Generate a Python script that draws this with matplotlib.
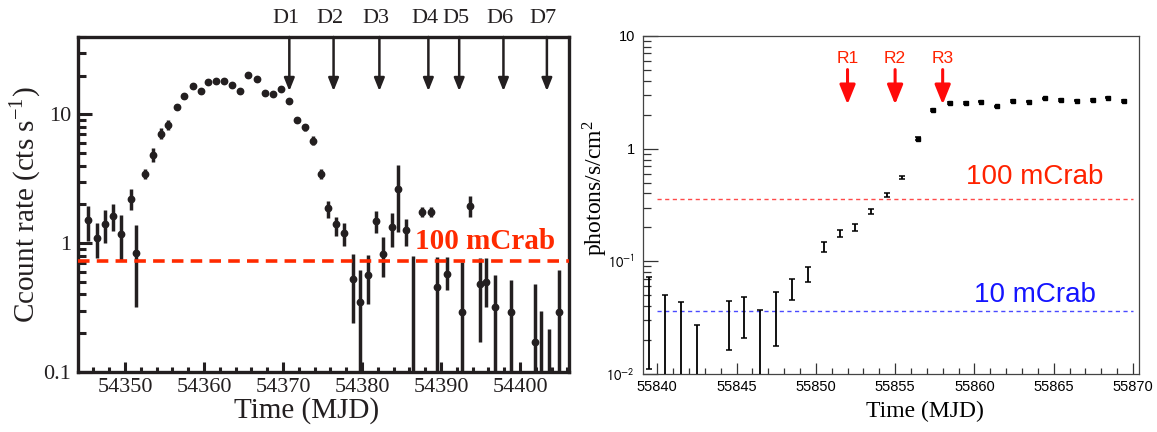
import numpy as np
import matplotlib
matplotlib.use("Agg")
import matplotlib.pyplot as plt
from matplotlib.ticker import FixedLocator, LogLocator, NullFormatter, MultipleLocator

plt.rcParams['mathtext.fontset'] = 'stix'
SERIF = ['Liberation Serif', 'DejaVu Serif']
SANS = ['Liberation Sans', 'DejaVu Sans']
INK = '#231f20'

# ---- left panel: count rate light curve ----
mjd_l = [54345.35, 54346.5, 54347.5, 54348.5, 54349.5, 54350.7, 54351.4, 54352.5, 54353.5, 54354.6,
         54355.4, 54356.6, 54357.5, 54358.6, 54359.6, 54360.5, 54361.5, 54362.5, 54363.5, 54364.6,
         54365.6, 54366.7, 54367.7, 54368.7, 54369.8, 54370.8, 54371.8, 54372.8, 54373.8, 54374.8,
         54375.7, 54376.7, 54377.7, 54378.8, 54379.7, 54380.8, 54381.8, 54382.6, 54383.8, 54384.5,
         54385.6, 54386.5, 54387.6, 54388.7, 54389.5, 54390.8, 54392.7, 54393.7, 54394.9, 54395.7,
         54396.8, 54398.9, 54401.9, 54402.7, 54403.7, 54404.9]
rate_l = [1.51, 1.09, 1.41, 1.62, 1.19, 2.2, 0.84, 3.46, 4.87, 7.1,
          8.3, 11.5, 13.9, 16.5, 15.2, 17.9, 18.2, 18.1, 16.9, 15.1,
          20.2, 18.8, 14.6, 14.5, 15.9, 12.7, 9.1, 7.95, 6.27, 3.46,
          1.89, 1.4, 1.21, 0.53, 0.35, 0.57, 1.49, 0.83, 1.33, 2.63,
          1.26, 0.05, 1.75, 1.75, 0.46, 0.58, 0.29, 1.95, 0.48, 0.5,
          0.32, 0.29, 0.17, 0.05, 0.05, 0.29]
lo_l = [1.05, 0.77, 1.0, 1.25, 0.74, 1.81, 0.32, 3.15, 4.3, 6.5,
        7.6, 11.0, 13.3, 15.8, 14.5, 17.1, 17.4, 17.3, 16.2, 14.4,
        19.3, 18.0, 14.0, 13.9, 15.2, 12.1, 8.6, 7.5, 5.8, 3.15,
        1.56, 1.13, 0.96, 0.24, 0.01, 0.34, 1.21, 0.55, 0.94, 1.22,
        0.95, 0.01, 1.6, 1.6, 0.01, 0.43, 0.01, 1.6, 0.17, 0.32,
        0.01, 0.01, 0.01, 0.01, 0.01, 0.01]
hi_l = [1.96, 1.43, 1.81, 2.02, 1.65, 2.63, 1.38, 3.8, 5.5, 7.8,
        9.1, 12.0, 14.5, 17.2, 15.9, 18.7, 19.0, 18.9, 17.6, 15.8,
        21.1, 19.6, 15.2, 15.1, 16.6, 13.3, 9.6, 8.4, 6.8, 3.8,
        2.14, 1.6, 1.44, 0.83, 0.62, 0.81, 1.78, 1.11, 1.71, 4.07,
        1.54, 0.79, 1.9, 1.9, 0.78, 0.78, 0.71, 2.33, 0.77, 0.77,
        0.57, 0.52, 0.48, 0.30, 0.215, 0.615]
crab_l = 0.73
d_labels = ['D1', 'D2', 'D3', 'D4', 'D5', 'D6', 'D7']
d_mjd = [54370.8, 54376.4, 54382.2, 54388.4, 54392.3, 54397.9, 54403.4]
d_tip = 15.2

# ---- right panel: photon flux light curve ----
mjd_r = [55839.5, 55840.5, 55841.5, 55842.5, 55844.5, 55845.5, 55846.5, 55847.5, 55848.5, 55849.5,
         55850.5, 55851.5, 55852.5, 55853.45, 55854.5, 55855.45, 55856.45, 55857.4, 55858.45, 55859.45,
         55860.4, 55861.45, 55862.45, 55863.45, 55864.45, 55865.45, 55866.45, 55867.45, 55868.45, 55869.45]
flux_r = [0.0415, 0.025, 0.022, 0.013, 0.0303, 0.0344, 0.018, 0.0355, 0.0577, 0.077,
          0.135, 0.177, 0.2, 0.276, 0.39, 0.553, 1.226, 2.21, 2.55, 2.55,
          2.61, 2.37, 2.64, 2.62, 2.79, 2.71, 2.67, 2.71, 2.84, 2.64]
err_r = [0.0305, 0.025, 0.0214, 0.014, 0.014, 0.0136, 0.019, 0.0177, 0.012, 0.0117,
         0.014, 0.0135, 0.0135, 0.015, 0.017, 0.02, 0.03, 0.04, 0.04, 0.04,
         0.04, 0.04, 0.04, 0.04, 0.04, 0.04, 0.04, 0.04, 0.04, 0.04]
crab100_r = 0.361
crab10_r = 0.0361
r_labels = ['R1', 'R2', 'R3']
r_mjd = [55852, 55855, 55858]

fig = plt.figure(figsize=(11.57, 4.32), dpi=100)

# ================= left =================
ax = fig.add_axes([0.0674, 0.1389, 0.4244, 0.7755])
rate = np.array(rate_l)
yerr = [rate - np.array(lo_l), np.array(hi_l) - rate]
ax.errorbar(mjd_l, rate, yerr=yerr, fmt='o', ms=4.6, color=INK, ecolor=INK,
            elinewidth=2.5, capsize=0, zorder=3)
ax.axhline(crab_l, color='#ff2a00', lw=2.6, dashes=(3.2, 2.0), zorder=4)
ax.text(54386.7, 0.9, '100 mCrab', color='#ff2a00', fontsize=21, fontweight='bold',
        family=SERIF, ha='left', va='baseline', zorder=5)

ax.set_yscale('log')
ax.set_xlim(54344.05, 54406.2)
ax.set_ylim(0.1, 40)
ax.yaxis.set_major_locator(FixedLocator([0.1, 1, 10]))
ax.set_yticklabels(['0.1', '1', '10'])
ax.yaxis.set_minor_locator(LogLocator(base=10, subs=np.arange(2, 10)))
ax.yaxis.set_minor_formatter(NullFormatter())
ax.xaxis.set_major_locator(MultipleLocator(10))
ax.xaxis.set_minor_locator(MultipleLocator(2))
ax.tick_params(which='both', direction='in', top=False, right=False, color=INK,
               labelsize=16, width=2.2)
ax.tick_params(axis='y', which='major', length=10, pad=5)
ax.tick_params(axis='y', which='minor', length=5.5)
ax.tick_params(axis='x', which='major', length=7, pad=4)
ax.tick_params(axis='x', which='minor', length=3.5)
for lbl in ax.get_xticklabels() + ax.get_yticklabels():
    lbl.set_family(SERIF)
    lbl.set_color(INK)
for sp in ax.spines.values():
    sp.set_linewidth(2.4)
    sp.set_color(INK)

ax.set_ylabel('Ccount rate (cts s$^{\\mathregular{-1}}$)', fontsize=21, family=SERIF,
              color=INK, va='center')
ax.yaxis.set_label_coords(-0.107, 0.5)
ax.set_xlabel('Time (MJD)', fontsize=21, family=SERIF, color=INK, va='center')
ax.xaxis.set_label_coords(0.466, -0.115)

top = ax.get_ylim()[1]
for lab, xm in zip(d_labels, d_mjd):
    ax.annotate('', xy=(xm, d_tip), xytext=(xm, top),
                arrowprops=dict(arrowstyle='-|>,head_length=0.55,head_width=0.22',
                                mutation_scale=14, lw=1.8, color=INK,
                                shrinkA=0, shrinkB=0), zorder=5)
    ax.text(xm - 0.45, 1.055, lab, transform=ax.get_xaxis_transform(), ha='center',
            va='center', fontsize=16, family=SERIF, color=INK)

# ================= right =================
ax2 = fig.add_axes([0.556, 0.1343, 0.4287, 0.7824])
flux = np.array(flux_r)
err = np.array(err_r)
lower = np.minimum(err, flux - 1e-3)
ax2.errorbar(mjd_r, flux, yerr=[lower, err], fmt='none', ecolor='black',
             elinewidth=1.3, capsize=2.5, capthick=1.1, zorder=3)
# markers only show where the error bar is tiny (bright points)
bright = err / flux < 0.03
ax2.plot(np.array(mjd_r)[bright], flux[bright], 's', ms=2.4, color='black', zorder=4)
ax2.plot([55840, 55870], [crab100_r, crab100_r], color='#ff4a4a', lw=1.0, dashes=(3, 2.5))
ax2.plot([55840, 55870], [crab10_r, crab10_r], color='#4a4aff', lw=1.0, dashes=(3, 2.5))
ax2.text(55859.5, 0.483, '100 mCrab', color='#ff2200', fontsize=20, family=SANS,
         ha='left', va='baseline')
ax2.text(55859.96, 0.0434, '10 mCrab', color='#1515ff', fontsize=20, family=SANS,
         ha='left', va='baseline')
for lab, xm in zip(r_labels, r_mjd):
    ax2.annotate('', xy=(xm, 2.47), xytext=(xm, 5.03),
                 arrowprops=dict(arrowstyle='-|>,head_length=0.42,head_width=0.17',
                                 mutation_scale=28, lw=2.2, color='#ff0a0a',
                                 shrinkA=0, shrinkB=0), zorder=5)
    ax2.text(xm, 6.3, lab, color='#ff2200', fontsize=12.5, family=SANS,
             ha='center', va='center')

ax2.set_yscale('log')
ax2.set_xlim(55839.12, 55870.4)
ax2.set_ylim(0.01, 10)
ax2.yaxis.set_major_locator(FixedLocator([0.01, 0.1, 1, 10]))
ax2.set_yticklabels(['$10^{-2}$', '$10^{-1}$', '1', '10'], family=SANS,
                    math_fontfamily='stixsans')
ax2.yaxis.set_minor_locator(LogLocator(base=10, subs=np.arange(2, 10)))
ax2.yaxis.set_minor_formatter(NullFormatter())
ax2.xaxis.set_major_locator(MultipleLocator(5))
ax2.xaxis.set_minor_locator(MultipleLocator(1))
ax2.tick_params(which='both', direction='in', top=False, right=False, color='#333333',
                labelsize=10.5, width=0.9)
ax2.tick_params(axis='y', which='major', length=11, pad=6)
ax2.tick_params(axis='y', which='minor', length=6)
ax2.tick_params(axis='x', which='major', length=8, pad=4)
ax2.tick_params(axis='x', which='minor', length=4.5)
for lbl in ax2.get_xticklabels():
    lbl.set_family(SANS)
for sp in ax2.spines.values():
    sp.set_linewidth(0.9)
    sp.set_color('#444444')

ax2.set_ylabel('photons/s/cm$^{\\mathregular{2}}$', fontsize=17, family=SERIF, va='center')
ax2.yaxis.set_label_coords(-0.097, 0.55)
ax2.set_xlabel('Time (MJD)', fontsize=17, family=SERIF, va='center')
ax2.xaxis.set_label_coords(0.568, -0.112)

fig.savefig('out.png', dpi=100)
